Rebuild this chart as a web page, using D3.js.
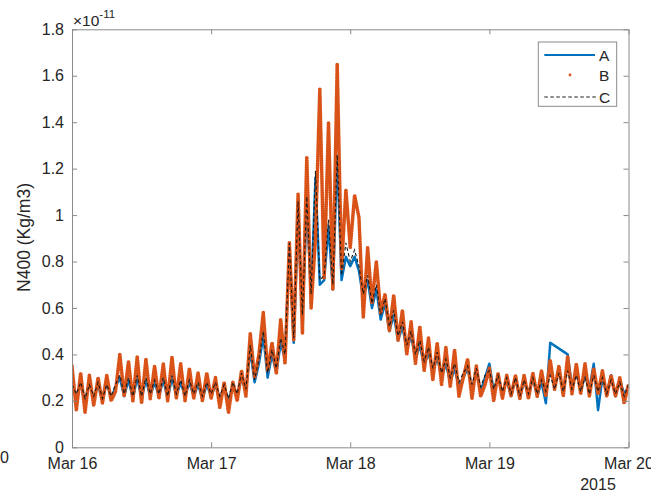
<!DOCTYPE html>
<html>
<head>
<meta charset="utf-8">
<script src="https://cdn.jsdelivr.net/npm/d3@7"></script>
<style>
  body { margin: 0; background: #fff; }
  svg { display: block; font-family: "Liberation Sans", Arial, Helvetica, sans-serif; }
  .axis text { fill: #262626; font-size: 16px; }
  .axis path, .axis line { stroke: #8a8a8a; }
</style>
</head>
<body>
<svg id="chart" width="651" height="494"></svg>
<script>
/* ---------------- DATA (units of 1e-11 Kg/m3, one sample every 45 min from Mar 16 00:00) ---------------- */
const startTime = new Date(2015, 2, 16, 0, 0);
const stepMinutes = 45;

const seriesA = [
  0.28,0.22,0.27,0.20,0.28,0.21,0.27,0.20,0.28,0.21,0.26,0.30,0.22,0.29,0.21,0.30,0.21,0.29,0.22,0.28,0.22,0.29,0.21,0.30,0.22,0.28,0.22,0.28,0.22,0.27,0.21,0.27,0.22,
  0.27,0.21,0.26,0.20,0.27,0.22,0.30,0.24,0.42,0.28,0.36,0.48,0.30,0.40,0.32,0.45,0.38,0.86,0.45,0.98,0.55,1.05,0.65,1.16,0.70,0.72,0.95,0.68,1.25,0.72,0.82,0.78,
  0.82,0.76,0.64,0.72,0.60,0.68,0.55,0.62,0.50,0.57,0.46,0.52,0.42,0.48,0.38,0.44,0.35,0.41,0.32,0.39,0.30,0.36,0.28,0.34,0.26,0.30,0.34,0.25,0.33,0.24,0.30,0.36,
  0.24,0.31,0.23,0.29,0.22,0.30,0.21,0.29,0.22,0.30,0.22,0.28,0.19,0.45,null,null,null,0.40,0.26,0.33,0.24,0.31,0.25,0.36,0.16,0.30,0.23,0.31,0.22,0.29,0.23,0.26
];

const seriesB = [
  0.35,0.16,0.32,0.15,0.31,0.18,0.30,0.19,0.31,0.20,0.24,0.40,0.22,0.37,0.20,0.39,0.19,0.38,0.21,0.35,0.21,0.36,0.20,0.39,0.21,0.36,0.20,0.34,0.21,0.32,0.20,0.32,0.21,
  0.30,0.17,0.28,0.15,0.28,0.20,0.33,0.22,0.49,0.30,0.40,0.58,0.33,0.45,0.32,0.55,0.36,0.88,0.46,1.09,0.49,1.25,0.60,0.90,1.545,0.73,1.40,0.68,1.65,0.77,1.11,0.86,
  1.085,0.99,0.56,0.86,0.62,0.80,0.58,0.66,0.50,0.655,0.46,0.59,0.40,0.54,0.36,0.52,0.33,0.47,0.29,0.45,0.27,0.43,0.26,0.42,0.22,0.30,0.38,0.21,0.35,0.22,0.27,0.34,
  0.20,0.32,0.21,0.31,0.22,0.31,0.21,0.31,0.21,0.32,0.22,0.33,0.22,0.375,0.25,0.35,0.22,0.39,0.23,0.36,0.23,0.36,0.22,0.34,0.23,0.33,0.22,0.31,0.22,0.30,0.19,0.27
];

const seriesC = [
  0.27,0.23,0.28,0.21,0.27,0.22,0.28,0.21,0.27,0.22,0.27,0.31,0.23,0.30,0.22,0.31,0.22,0.30,0.23,0.29,0.23,0.30,0.22,0.31,0.23,0.29,0.22,0.29,0.23,0.28,0.22,0.28,0.23,
  0.28,0.22,0.27,0.21,0.28,0.23,0.32,0.25,0.44,0.29,0.38,0.50,0.32,0.42,0.34,0.47,0.40,0.88,0.47,1.06,0.57,1.08,0.66,1.19,0.72,0.74,0.98,0.70,1.26,0.74,0.88,0.80,
  0.85,0.78,0.66,0.74,0.62,0.70,0.57,0.64,0.52,0.59,0.48,0.54,0.44,0.50,0.40,0.46,0.37,0.43,0.34,0.41,0.32,0.38,0.30,0.36,0.28,0.32,0.35,0.27,0.34,0.26,0.31,0.33,
  0.25,0.31,0.24,0.30,0.23,0.30,0.22,0.29,0.23,0.30,0.23,0.29,0.24,0.31,0.25,0.32,0.24,0.33,0.25,0.31,0.24,0.30,0.23,0.31,0.24,0.30,0.23,0.29,0.23,0.28,0.22,0.27
];

const legendLabels = ["A", "B", "C"];
const yTicks = [0, 0.2, 0.4, 0.6, 0.8, 1, 1.2, 1.4, 1.6, 1.8];
const xTicks = [new Date(2015, 2, 16), new Date(2015, 2, 17), new Date(2015, 2, 18), new Date(2015, 2, 19), new Date(2015, 2, 20)];

/* ---------------- SETUP ---------------- */
const svg = d3.select("#chart");
const plot = { left: 72, right: 628.5, top: 29.3, bottom: 447.3 };

const x = d3.scaleTime()
  .domain([xTicks[0], xTicks[xTicks.length - 1]])
  .range([plot.left, plot.right]);

const y = d3.scaleLinear()
  .domain([0, 1.8])
  .range([plot.bottom, plot.top]);

const rows = seriesB.map((b, i) => ({
  t: d3.timeMinute.offset(startTime, i * stepMinutes),
  a: seriesA[i],
  b: b,
  c: seriesC[i]
}));

svg.append("defs").append("clipPath").attr("id", "clip")
  .append("rect")
  .attr("x", plot.left).attr("y", plot.top)
  .attr("width", plot.right - plot.left).attr("height", plot.bottom - plot.top);

const lines = svg.append("g").attr("clip-path", "url(#clip)");

/* A: blue solid, gap joined straight */
lines.append("path")
  .datum(rows.filter(d => d.a != null))
  .attr("fill", "none")
  .attr("stroke", "#0072BD")
  .attr("stroke-width", 2.5)
  .attr("stroke-linejoin", "round")
  .attr("d", d3.line().x(d => x(d.t)).y(d => y(d.a)));

/* B: orange dot markers, drawn as a dotted heavy stroke */
lines.append("path")
  .datum(rows)
  .attr("fill", "none")
  .attr("stroke", "#D95319")
  .attr("stroke-width", 3.8)
  .attr("stroke-linecap", "round")
  .attr("stroke-dasharray", "0 2.3")
  .attr("d", d3.line().x(d => x(d.t)).y(d => y(d.b)));

/* C: black dashed */
lines.append("path")
  .datum(rows)
  .attr("fill", "none")
  .attr("stroke", "#1a1a1a")
  .attr("stroke-width", 1.1)
  .attr("stroke-dasharray", "3.5 2.5")
  .attr("d", d3.line().x(d => x(d.t)).y(d => y(d.c)));

/* ---------------- AXES (MATLAB style box, inward ticks) ---------------- */
const fmtY = d => String(+d.toFixed(1));

svg.append("g").attr("class", "axis")
  .attr("transform", `translate(${plot.left},0)`)
  .call(d3.axisLeft(y).tickValues(yTicks).tickFormat(fmtY).tickSizeInner(-5).tickSizeOuter(0).tickPadding(8));

svg.append("g").attr("class", "axis")
  .attr("transform", `translate(${plot.right},0)`)
  .call(d3.axisRight(y).tickValues(yTicks).tickFormat("").tickSizeInner(-5).tickSizeOuter(0));

svg.append("g").attr("class", "axis")
  .attr("transform", `translate(0,${plot.bottom})`)
  .call(d3.axisBottom(x).tickValues(xTicks).tickFormat(d3.timeFormat("%b %d")).tickSizeInner(-5).tickSizeOuter(0).tickPadding(10.5));

svg.append("g").attr("class", "axis")
  .attr("transform", `translate(0,${plot.top})`)
  .call(d3.axisTop(x).tickValues(xTicks).tickFormat("").tickSizeInner(-5).tickSizeOuter(0));

svg.selectAll(".axis .domain").attr("stroke", "#8a8a8a");

/* year label under the last tick */
svg.append("text")
  .attr("x", 598).attr("y", 490)
  .attr("text-anchor", "middle")
  .attr("font-size", 16).attr("fill", "#262626")
  .text("2015");

/* exponent label */
const expo = svg.append("text")
  .attr("x", 73).attr("y", 26)
  .attr("font-size", 15.5).attr("fill", "#262626");
expo.append("tspan").text("\u00d710");
expo.append("tspan").attr("font-size", 11.5).attr("dy", -8).text("-11");

/* y label */
svg.append("text")
  .attr("transform", "translate(30,237.5) rotate(-90)")
  .attr("text-anchor", "middle")
  .attr("font-size", 17.5).attr("fill", "#262626")
  .text("N400 (Kg/m3)");

/* stray label at far left */
svg.append("text")
  .attr("x", 0).attr("y", 463)
  .attr("font-size", 16).attr("fill", "#262626")
  .text("0");

/* ---------------- LEGEND ---------------- */
const legend = svg.append("g");
legend.append("rect")
  .attr("x", 538.3).attr("y", 42).attr("width", 78.4).attr("height", 64.3)
  .attr("fill", "#fff").attr("stroke", "#8a8a8a");

const rowY = [55, 75, 97];
legend.append("line")
  .attr("x1", 544.3).attr("x2", 595).attr("y1", rowY[0]).attr("y2", rowY[0])
  .attr("stroke", "#0072BD").attr("stroke-width", 2.2);
legend.append("circle")
  .attr("cx", 570).attr("cy", rowY[1]).attr("r", 1.4)
  .attr("fill", "#D95319");
legend.append("line")
  .attr("x1", 544.3).attr("x2", 597).attr("y1", rowY[2]).attr("y2", rowY[2])
  .attr("stroke", "#1a1a1a").attr("stroke-width", 1).attr("stroke-dasharray", "3.5 2.5");

legend.selectAll("text.lab")
  .data(legendLabels)
  .enter()
  .append("text")
  .attr("class", "lab")
  .attr("x", 599)
  .attr("y", (d, i) => rowY[i] + 5.5)
  .attr("font-size", 15.5).attr("fill", "#262626")
  .text(d => d);
</script>
</body>
</html>
